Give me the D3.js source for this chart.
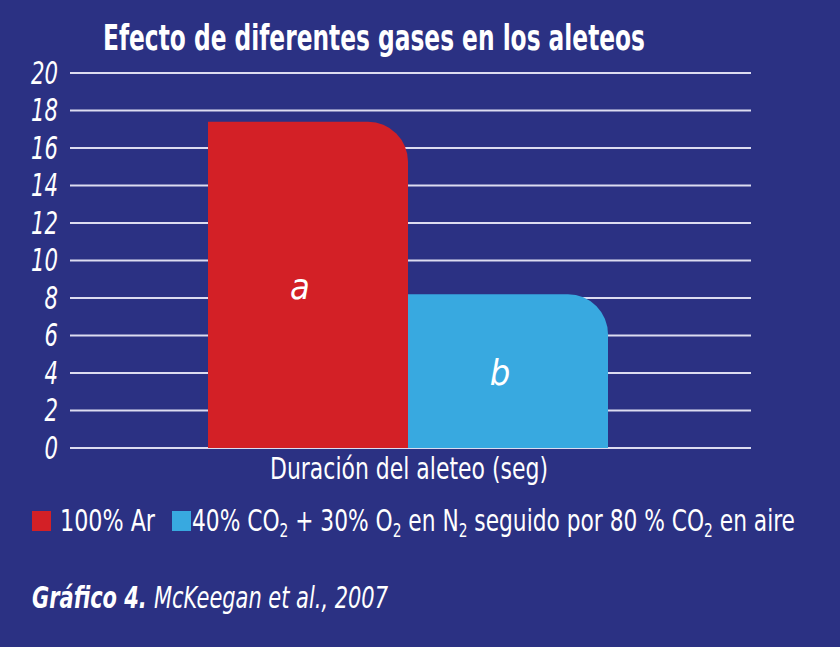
<!DOCTYPE html>
<html>
<head>
<meta charset="utf-8">
<script src="https://cdn.jsdelivr.net/npm/d3@7"></script>
<style>
  body { margin: 0; background: #2b3183; }
  text { font-family: "Liberation Sans Narrow", "DejaVu Sans Condensed", sans-serif; fill: #fff; }
</style>
</head>
<body>
<script>
const categories = ["100% Ar", "40% CO2 + 30% O2 en N2 seguido por 80 % CO2 en aire"];
const values = [17.4, 8.2];
const barLabels = ["a", "b"];
const colors = ["#d32026", "#38a9e0"];
const yTicks = [0, 2, 4, 6, 8, 10, 12, 14, 16, 18, 20];

const width = 840, height = 647;
const svg = d3.select("body").append("svg")
  .attr("width", width).attr("height", height);

svg.append("rect").attr("width", width).attr("height", height).attr("fill", "#2b3183");

const x = d3.scaleBand().domain(categories).range([208, 608]).padding(0);
const y = d3.scaleLinear().domain([0, 20]).range([448, 73]);

// grid lines
svg.append("g").selectAll("line")
  .data(yTicks)
  .enter().append("line")
  .attr("x1", 70).attr("x2", 751)
  .attr("y1", d => y(d)).attr("y2", d => y(d))
  .attr("stroke", "#dcdcf0").attr("stroke-width", 2);

// y axis labels
const yAxis = svg.append("g").attr("transform", "translate(60,0)")
  .call(d3.axisLeft(y).tickValues(yTicks).tickSize(0).tickPadding(2));
yAxis.select(".domain").remove();
yAxis.selectAll("text")
  .attr("font-size", 32).attr("font-style", "italic")
  .attr("fill", "#fff")
  .style("font-family", "'Liberation Sans Narrow', 'DejaVu Sans Condensed', sans-serif")
  .attr("textLength", d => String(d).length * 13.5)
  .attr("lengthAdjust", "spacingAndGlyphs");

// bars with rounded top-right corner
const r = 40;
function barPath(d, i) {
  const x0 = x(categories[i]), x1 = x0 + x.bandwidth();
  const yt = y(d), yb = y(0);
  return `M${x0},${yb} V${yt} H${x1 - r} A${r},${r} 0 0 1 ${x1},${yt + r} V${yb} Z`;
}
svg.append("g").selectAll("path")
  .data(values)
  .enter().append("path")
  .attr("d", barPath)
  .attr("fill", (d, i) => colors[i]);

// letters inside bars
svg.append("g").selectAll("text")
  .data(values)
  .enter().append("text")
  .attr("x", (d, i) => x(categories[i]) + x.bandwidth() / 2 - 8)
  .attr("y", d => y(d / 2) + 14)
  .attr("text-anchor", "middle")
  .attr("font-size", 36).attr("font-style", "italic")
  .text((d, i) => barLabels[i]);

// title
svg.append("text")
  .attr("x", 103).attr("y", 50)
  .attr("font-size", 36).attr("font-weight", "bold")
  .attr("textLength", 542).attr("lengthAdjust", "spacingAndGlyphs")
  .text("Efecto de diferentes gases en los aleteos");

// x axis title
svg.append("text")
  .attr("x", 270).attr("y", 479)
  .attr("font-size", 30)
  .attr("textLength", 278).attr("lengthAdjust", "spacingAndGlyphs")
  .text("Duración del aleteo (seg)");

// legend
svg.append("rect").attr("x", 32).attr("y", 511).attr("width", 19).attr("height", 20).attr("fill", colors[0]);
svg.append("text")
  .attr("x", 60).attr("y", 531).attr("font-size", 30)
  .attr("textLength", 95).attr("lengthAdjust", "spacingAndGlyphs")
  .text(categories[0]);

svg.append("rect").attr("x", 172).attr("y", 511).attr("width", 19).attr("height", 20).attr("fill", colors[1]);
const leg2 = svg.append("text")
  .attr("x", 192).attr("y", 531).attr("font-size", 30)
  .attr("textLength", 603).attr("lengthAdjust", "spacingAndGlyphs");
const parts = [["40% CO", false], ["2", true], [" + 30% O", false], ["2", true], [" en N", false], ["2", true],
  [" seguido por 80 % CO", false], ["2", true], [" en aire", false]];
parts.forEach(([t, sub]) => {
  leg2.append("tspan")
    .attr("font-size", sub ? 19 : 30)
    .attr("dy", sub ? 6 : 0)
    .attr("y", sub ? null : 531)
    .text(t);
});

// caption
const cap = svg.append("text")
  .attr("x", 32).attr("y", 608).attr("font-size", 30).attr("font-style", "italic")
  .attr("textLength", 356).attr("lengthAdjust", "spacingAndGlyphs");
cap.append("tspan").attr("font-weight", "bold").text("Gráfico 4. ");
cap.append("tspan").text("McKeegan et al., 2007");
</script>
</body>
</html>
